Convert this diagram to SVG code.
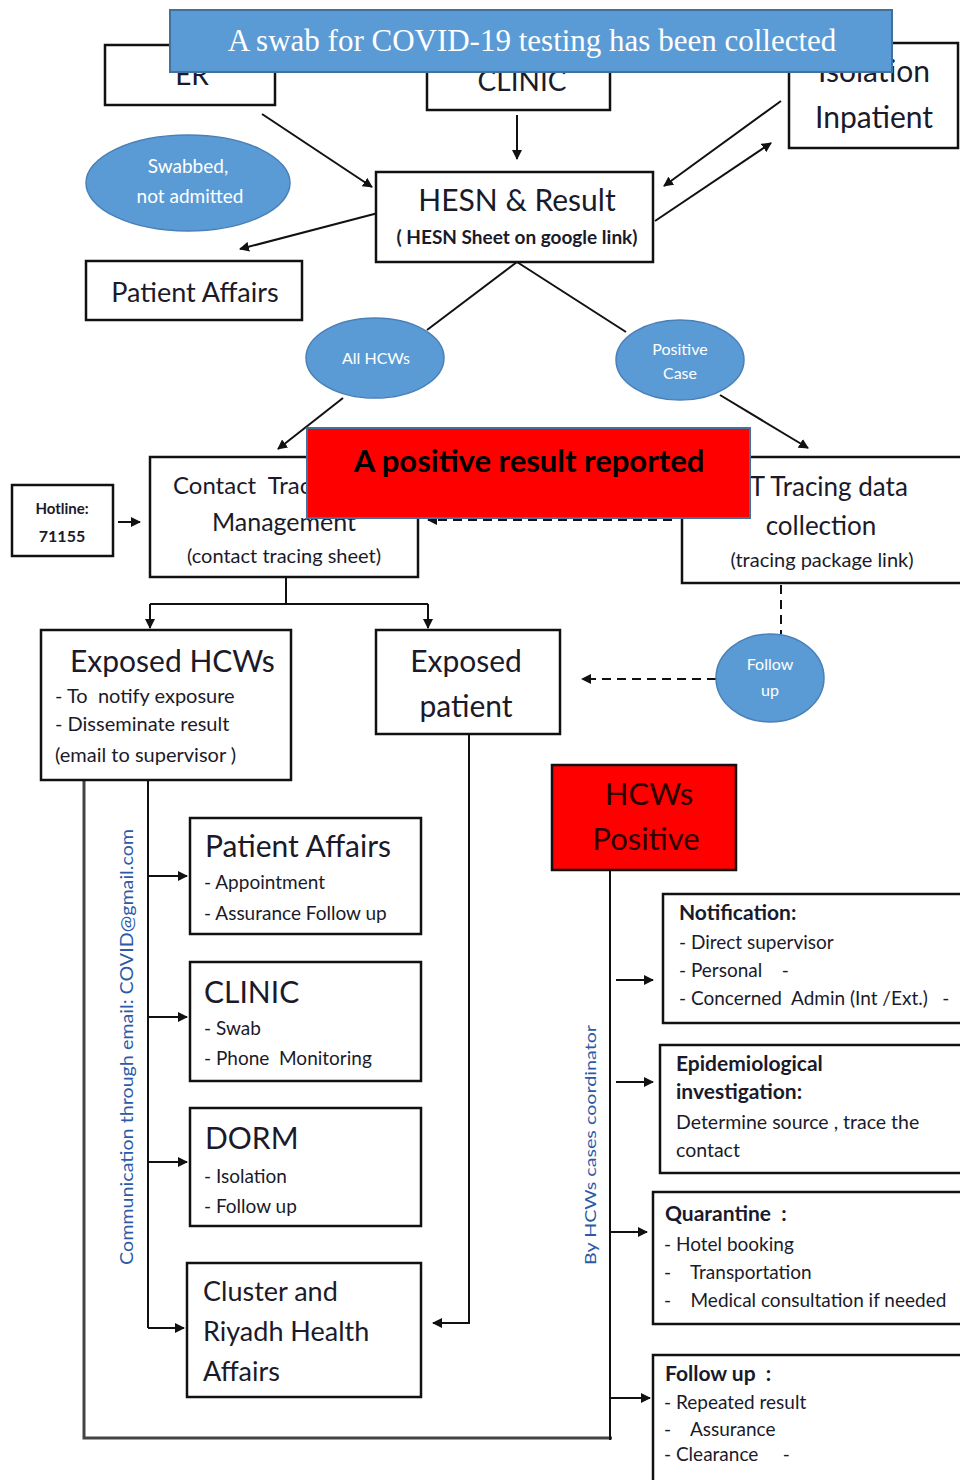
<svg xmlns="http://www.w3.org/2000/svg" width="960" height="1480" viewBox="0 0 960 1480" xml:space="preserve">
<defs>
<marker id="ah" viewBox="0 0 10 10" refX="9" refY="5" markerWidth="10" markerHeight="10" markerUnits="userSpaceOnUse" orient="auto">
<path d="M0,0 L10,5 L0,10 z" fill="#111"/>
</marker>
</defs>
<style>
.box{fill:#fff;stroke:#111;stroke-width:2.5}
.ell{fill:#5b9bd5;stroke:#4a80b8;stroke-width:1.5}
.t{font-family:Lato,"Open Sans",sans-serif;fill:#1a1a2a;white-space:pre}
.b{font-weight:bold}
.w{font-family:Lato,"Open Sans",sans-serif;fill:#fff}
.ln{fill:none;stroke:#111;stroke-width:2}
.ar{fill:none;stroke:#111;stroke-width:2;marker-end:url(#ah)}
.da{fill:none;stroke:#111;stroke-width:2;stroke-dasharray:9 6}
.vt{font-family:Lato,"Open Sans",sans-serif;fill:#2a5aa8}
</style>

<g id="connectors">
<line class="ar" x1="262" y1="114" x2="372" y2="187"/>
<line class="ar" x1="517" y1="115" x2="517" y2="159"/>
<line class="ar" x1="781" y1="101" x2="664" y2="186"/>
<line class="ar" x1="655" y1="221" x2="771" y2="143"/>
<line class="ar" x1="378" y1="213" x2="240" y2="249"/>
<line class="ln" x1="517" y1="262" x2="427" y2="330"/>
<line class="ar" x1="343" y1="398" x2="278" y2="449"/>
<line class="ln" x1="517" y1="262" x2="626" y2="332"/>
<line class="ar" x1="720" y1="395" x2="808" y2="448"/>
<line class="ar" x1="118" y1="522" x2="140" y2="522"/>
<line class="da" x1="672" y1="520" x2="428" y2="520" marker-end="url(#ah)"/>
<polyline class="ln" points="286,577 286,604"/>
<polyline class="ar" points="150,604 150,628"/>
<polyline class="ln" points="150,604 428,604"/>
<polyline class="ar" points="428,604 428,628"/>
<line class="da" x1="781" y1="585" x2="781" y2="634"/>
<line class="da" x1="716" y1="679" x2="582" y2="679" marker-end="url(#ah)"/>
<polyline class="ln" points="84,780 84,1438 612,1438" style="stroke:#444;stroke-width:3"/>
<polyline class="ln" points="148,780 148,1328"/>
<line class="ar" x1="148" y1="876" x2="187" y2="876"/>
<line class="ar" x1="148" y1="1017" x2="187" y2="1017"/>
<line class="ar" x1="148" y1="1162" x2="187" y2="1162"/>
<line class="ar" x1="148" y1="1328" x2="184" y2="1328"/>
<polyline class="ln" points="469,734 469,1323 452,1323"/>
<line class="ar" x1="469" y1="1323" x2="433" y2="1323"/>
<line class="ln" x1="610" y1="870" x2="610" y2="1440"/>
<line class="ar" x1="616" y1="980" x2="653" y2="980"/>
<line class="ar" x1="616" y1="1082" x2="653" y2="1082"/>
<line class="ar" x1="610" y1="1232" x2="647" y2="1232"/>
<line class="ar" x1="610" y1="1398" x2="650" y2="1398"/>
</g>

<g id="er"><rect class="box" x="105" y="45" width="170" height="60"/><text class="t" x="192" y="85" font-size="28" text-anchor="middle">ER</text></g>
<g id="clinic-top"><rect class="box" x="427" y="45" width="183" height="65"/><text class="t" x="522" y="91" font-size="28" text-anchor="middle">CLINIC</text></g>
<g id="isolation"><rect class="box" x="789" y="43" width="169" height="105"/><text class="t" x="874" y="82" font-size="30" text-anchor="middle">Isolation</text><text class="t" x="874" y="128" font-size="30" text-anchor="middle">Inpatient</text></g>

<g id="banner"><rect x="170" y="10" width="722" height="62" fill="#5b9bd5" stroke="#41719c" stroke-width="2"/><text x="532" y="51" font-family="'Liberation Serif',serif" font-size="31" fill="#fff" text-anchor="middle">A swab for COVID-19 testing has been collected</text></g>

<g id="hesn"><rect class="box" x="376" y="172" width="277" height="90"/><text class="t" x="517" y="211" font-size="30" text-anchor="middle">HESN &amp; Result</text><text class="t b" x="517" y="244" font-size="19" text-anchor="middle">( HESN Sheet on google link)</text></g>

<g id="swabbed"><ellipse class="ell" cx="188" cy="183" rx="102" ry="48"/><text class="w" x="188" y="173" font-size="19" text-anchor="middle">Swabbed,</text><text class="w" x="190" y="203" font-size="19" text-anchor="middle">not admitted</text></g>

<g id="patient-affairs-top"><rect class="box" x="86" y="261" width="216" height="59"/><text class="t" x="195" y="302" font-size="27" text-anchor="middle">Patient Affairs</text></g>

<g id="all-hcws"><ellipse class="ell" cx="375" cy="358" rx="69" ry="40"/><text class="w" x="376" y="364" font-size="16" text-anchor="middle">All HCWs</text></g>
<g id="positive-case"><ellipse class="ell" cx="680" cy="360" rx="64" ry="40"/><text class="w" x="680" y="355" font-size="16" text-anchor="middle">Positive</text><text class="w" x="680" y="379" font-size="16" text-anchor="middle">Case</text></g>

<g id="hotline"><rect class="box" x="12" y="485" width="101" height="71"/><text class="t b" x="62" y="514" font-size="15" text-anchor="middle">Hotline:</text><text class="t b" x="62" y="542" font-size="16" text-anchor="middle">71155</text></g>

<g id="contact-tracing"><rect class="box" x="150" y="457" width="268" height="120"/><text class="t" x="173" y="494" font-size="24">Contact  Tracing</text><text class="t" x="284" y="531" font-size="25" text-anchor="middle">Management</text><text class="t" x="284" y="563" font-size="20" text-anchor="middle">(contact tracing sheet)</text></g>

<g id="rt-tracing"><rect class="box" x="682" y="457" width="290" height="126"/><text class="t" x="821" y="496" font-size="26" text-anchor="middle">RT Tracing data</text><text class="t" x="821" y="535" font-size="26" text-anchor="middle">collection</text><text class="t" x="822" y="567" font-size="20" text-anchor="middle">(tracing package link)</text></g>

<g id="positive-reported"><rect x="307" y="428" width="443" height="90" fill="#ff0000" stroke="#41719c" stroke-width="2"/><text x="529" y="472" font-family="Lato,'Open Sans',sans-serif" font-weight="bold" font-size="31" fill="#000" text-anchor="middle">A positive result reported</text></g>

<g id="exposed-hcws"><rect class="box" x="41" y="630" width="250" height="150"/><text class="t" x="70" y="672" font-size="30">Exposed HCWs</text><text class="t" x="55" y="703" font-size="20">- To  notify exposure</text><text class="t" x="55" y="731" font-size="20">- Disseminate result</text><text class="t" x="55" y="762" font-size="20">(email to supervisor )</text></g>

<g id="exposed-patient"><rect class="box" x="376" y="630" width="184" height="104"/><text class="t" x="466" y="672" font-size="30" text-anchor="middle">Exposed</text><text class="t" x="466" y="717" font-size="30" text-anchor="middle">patient</text></g>

<g id="follow-up-ell"><ellipse class="ell" cx="770" cy="678" rx="54" ry="44"/><text class="w" x="770" y="670" font-size="16" text-anchor="middle">Follow</text><text class="w" x="770" y="696" font-size="16" text-anchor="middle">up</text></g>

<g id="hcws-positive"><rect x="552" y="765" width="184" height="105" fill="#ff0000" stroke="#111" stroke-width="2.5"/><text x="649" y="805" font-family="Lato,'Open Sans',sans-serif" font-size="31" fill="#2a0000" text-anchor="middle">HCWs</text><text x="646" y="850" font-family="Lato,'Open Sans',sans-serif" font-size="31" fill="#2a0000" text-anchor="middle">Positive</text></g>

<g id="patient-affairs"><rect class="box" x="190" y="818" width="231" height="116"/><text class="t" x="205" y="857" font-size="30">Patient Affairs</text><text class="t" x="204" y="889" font-size="19">- Appointment</text><text class="t" x="204" y="920" font-size="19">- Assurance Follow up</text></g>
<g id="clinic"><rect class="box" x="190" y="962" width="231" height="119"/><text class="t" x="204" y="1003" font-size="30">CLINIC</text><text class="t" x="204" y="1035" font-size="19">- Swab</text><text class="t" x="204" y="1065" font-size="19">- Phone  Monitoring</text></g>
<g id="dorm"><rect class="box" x="190" y="1108" width="231" height="118"/><text class="t" x="205" y="1149" font-size="30">DORM</text><text class="t" x="204" y="1183" font-size="19">- Isolation</text><text class="t" x="204" y="1213" font-size="19">- Follow up</text></g>
<g id="cluster"><rect class="box" x="187" y="1263" width="234" height="134"/><text class="t" x="203" y="1301" font-size="27">Cluster and</text><text class="t" x="203" y="1341" font-size="27">Riyadh Health</text><text class="t" x="203" y="1381" font-size="27">Affairs</text></g>

<g id="comm-label"><text class="vt" transform="translate(133,1047) rotate(-90)" font-size="17" text-anchor="middle" textLength="436" lengthAdjust="spacingAndGlyphs">Communication through email: COVID@gmail.com</text></g>
<g id="coord-label"><text class="vt" transform="translate(596,1145) rotate(-90)" font-size="16" text-anchor="middle" textLength="240" lengthAdjust="spacingAndGlyphs">By HCWs cases coordinator</text></g>

<g id="notification"><rect class="box" x="663" y="894" width="310" height="129"/><text class="t b" x="679" y="920" font-size="21">Notification:</text><text class="t" x="679" y="949" font-size="19">- Direct supervisor</text><text class="t" x="679" y="977" font-size="19">- Personal    -</text><text class="t" x="679" y="1005" font-size="19">- Concerned  Admin (Int /Ext.)   -</text></g>
<g id="epidemiological"><rect class="box" x="660" y="1045" width="313" height="128"/><text class="t b" x="676" y="1071" font-size="21">Epidemiological</text><text class="t b" x="676" y="1099" font-size="21">investigation:</text><text class="t" x="676" y="1129" font-size="19.5">Determine source , trace the</text><text class="t" x="676" y="1157" font-size="19.5">contact</text></g>
<g id="quarantine"><rect class="box" x="653" y="1192" width="320" height="132"/><text class="t b" x="665" y="1221" font-size="21">Quarantine  :</text><text class="t" x="664" y="1251" font-size="19">- Hotel booking</text><text class="t" x="664" y="1279" font-size="19">-    Transportation</text><text class="t" x="664" y="1307" font-size="19">-    Medical consultation if needed</text></g>
<g id="follow-up"><rect class="box" x="653" y="1355" width="320" height="135"/><text class="t b" x="665" y="1381" font-size="21">Follow up  :</text><text class="t" x="664" y="1409" font-size="19">- Repeated result</text><text class="t" x="664" y="1436" font-size="19">-    Assurance</text><text class="t" x="664" y="1461" font-size="19">- Clearance     -</text></g>
</svg>
